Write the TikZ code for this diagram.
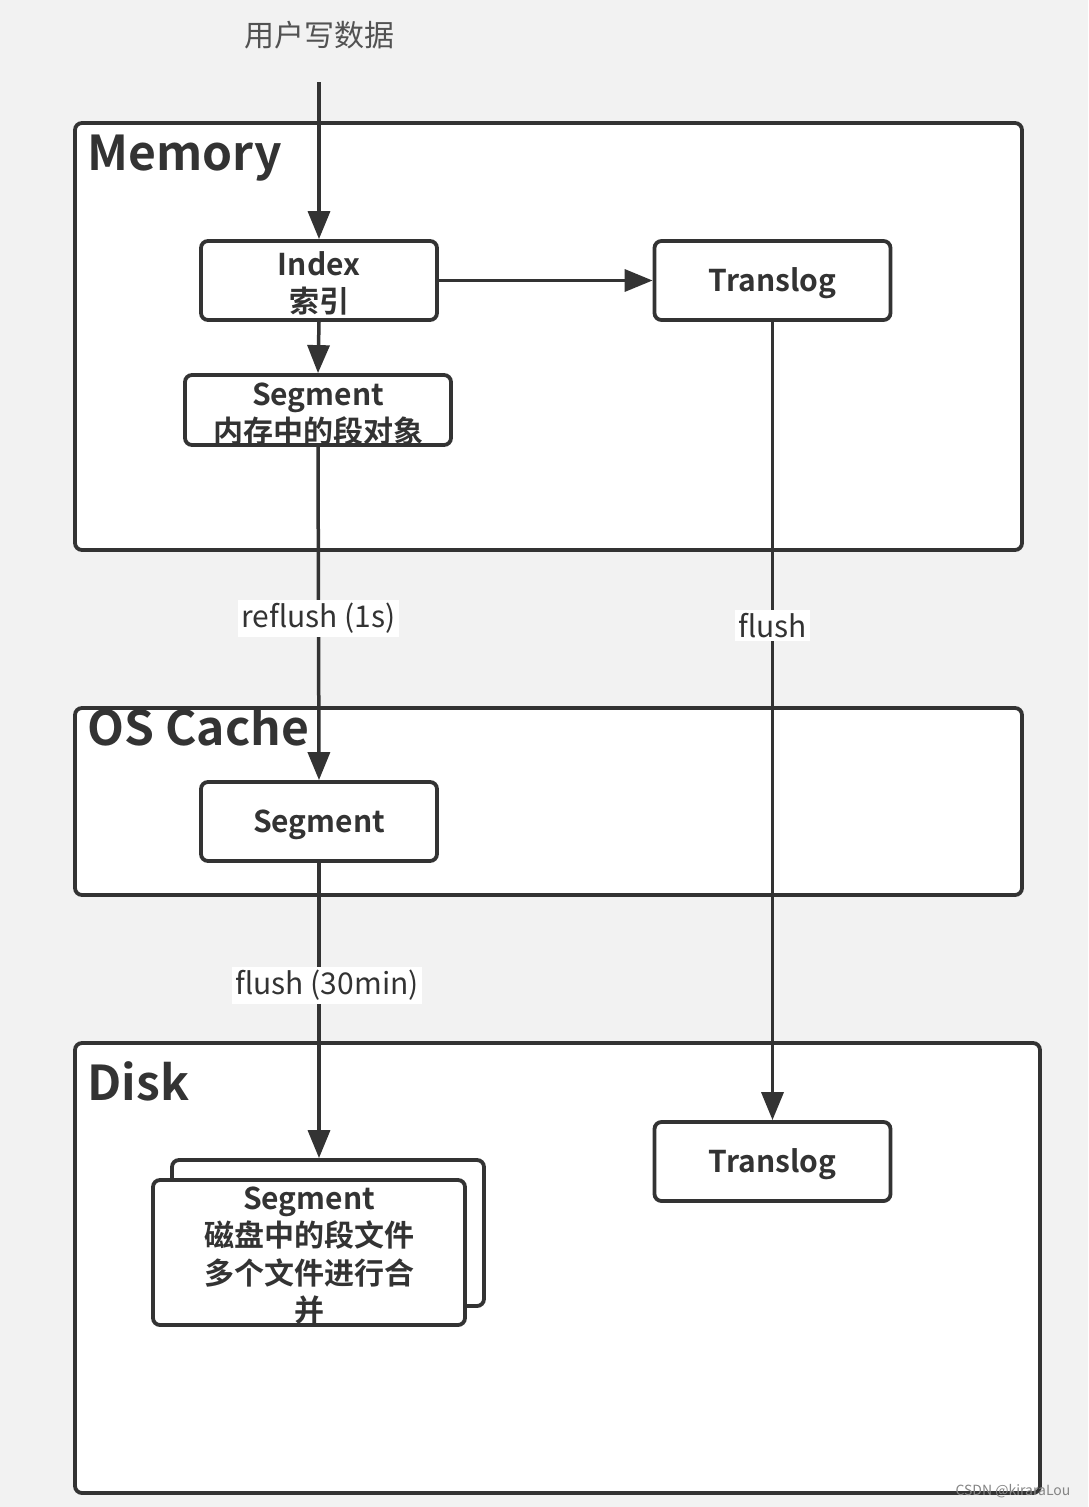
\documentclass[tikz,border=0pt]{standalone}
\usepackage{fontspec}
\setmainfont{Noto Sans CJK SC}[BoldFont={Noto Sans CJK SC Bold}]
\usetikzlibrary{arrows.meta}
\definecolor{ink}{HTML}{333333}
\definecolor{paper}{HTML}{F2F2F2}

\begin{document}
\begin{tikzpicture}[x=1pt,y=-1pt,
    frame/.style={draw=ink,line width=3.8pt,fill=white,rounded corners=7pt},
    box/.style={frame,inner sep=0pt,minimum width=236pt,minimum height=79pt},
    txt/.style={text=ink,align=center,yshift=-3pt,font=\bfseries\fontsize{30}{37.5}\selectfont},
    head/.style={text=ink,anchor=west,font=\bfseries\fontsize{48}{56}\selectfont},
    lbl/.style={fill=white,text=ink,inner sep=3pt,font=\fontsize{30}{36}\selectfont},
    flow/.style={draw=ink,line width=3.5pt,-{Triangle[length=28pt,width=22pt]}}]
    \fill[paper] (0,0) rectangle (1088,1507);
    \useasboundingbox (0,0) rectangle (1088,1507);
    % the three layers
    \draw[frame] (75,123) rectangle (1022,550);
    \draw[frame] (75,708) rectangle (1022,895);
    \draw[frame] (75,1043) rectangle (1040,1493);
    \node[head] (memT) at (84,158) {Memory};
    \node[head] (osT) at (84,727) {OS Cache};
    \node[head] (diskT) at (84,1081) {Disk};
    \node[text=ink!85,font=\fontsize{30}{36}\selectfont] (user) at (319,35) {用户写数据};
    \coordinate (src) at (319,82);
    % nodes
    \node[box] (idx) at (319,280.5) {};
    \node[box] (tlM) at (772.5,280.5) {};
    \node[box,minimum width=266pt,minimum height=70pt] (segM) at (318,410) {};
    \node[box] (segOS) at (319,821.5) {};
    \node[box] (tlD) at (772.5,1161.5) {};
    \node[box,minimum width=312pt,minimum height=146pt] (segB) at (328,1233) {};
    \node[box,minimum width=312pt,minimum height=145pt] (segD) at (309,1252.5) {};
    \node[txt] at (idx) {Index\\索引};
    \node[txt] at (tlM) {Translog};
    \node[txt,yshift=-1pt] at (segM) {Segment\\内存中的段对象};
    \node[txt] at (segOS) {Segment};
    \node[txt] at (tlD) {Translog};
    \node[txt] at (segD) {Segment\\磁盘中的段文件\\多个文件进行合\\并};
    % connectors
    \draw[flow] (idx.north |- src) -- (idx.north);
    \draw[flow] (idx.east) -- (tlM.west);
    \draw[flow] (idx.south) -- (segM.north);
    \draw[flow] (segM.south) -- (segOS.north) node[lbl,pos=0.515] (l1) {reflush (1s)};
    \draw[flow] (segOS.south) -- (segOS.south |- segB.north)
      node[lbl,pos=0.415,xshift=8pt] (l2) {flush (30min)};
    \draw[flow] (tlM.south) -- (tlD.north) node[lbl,pos=0.38] (l3) {flush};
    \node[text=ink!60,font=\fontsize{14}{16}\selectfont] (wm) at (1013,1491) {CSDN @kiraraLou};
\end{tikzpicture}
\end{document}
